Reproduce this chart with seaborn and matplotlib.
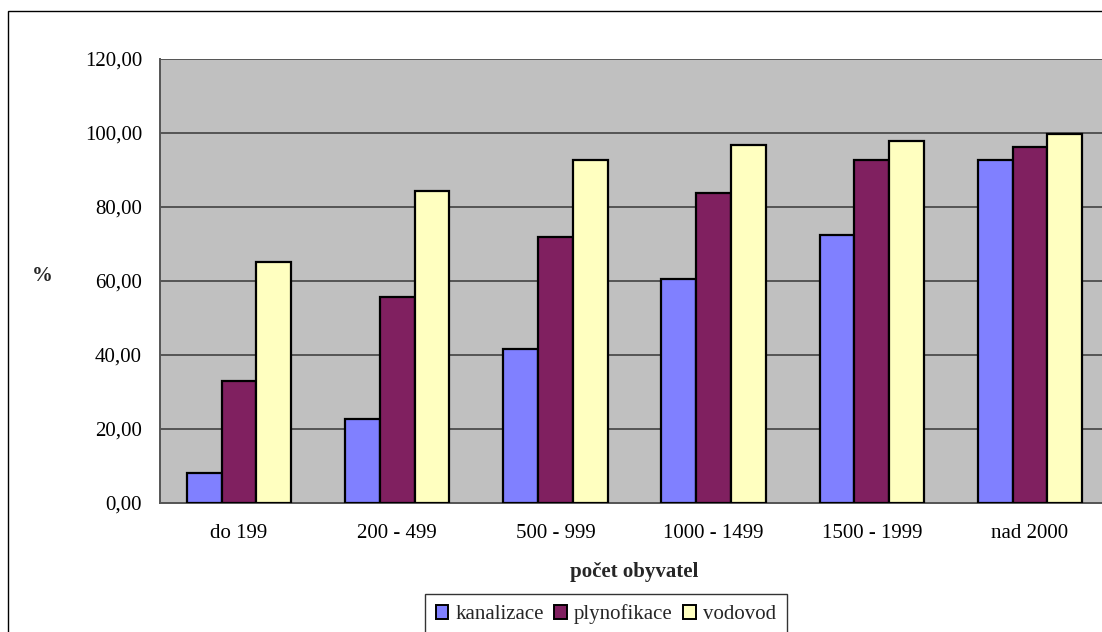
import matplotlib
matplotlib.use("Agg")
import matplotlib.pyplot as plt
from matplotlib.patches import Rectangle, Patch
from matplotlib.ticker import FuncFormatter, FixedLocator
import numpy as np
import pandas as pd
import seaborn as sns

# Size classes of municipalities (number of inhabitants)
categories = ["do 199", "200 - 499", "500 - 999", "1000 - 1499", "1500 - 1999", "nad 2000"]
series_names = ["kanalizace", "plynofikace", "vodovod"]
kanalizace = [8.2, 22.6, 41.5, 60.6, 72.5, 92.7]
plynofikace = [33.1, 55.7, 72.0, 83.9, 92.7, 96.2]
vodovod = [65.1, 84.3, 92.8, 96.7, 97.8, 99.6]
y_ticks = [0, 20, 40, 60, 80, 100, 120]

colors = ["#8080FF", "#802060", "#FFFFC0"]

df = pd.DataFrame({
    "kategorie": categories * 3,
    "serie": [s for s in series_names for _ in categories],
    "hodnota": kanalizace + plynofikace + vodovod,
})

sns.set_theme(style="white")
plt.rcParams["font.family"] = ["Liberation Serif", "DejaVu Serif"]
FS = 15

W, H = 1102, 632
fig = plt.figure(figsize=(W / 100, H / 100), dpi=100)
fig.patch.set_facecolor("white")

# outer chart frame
fig.add_artist(Rectangle((8 / W, -0.2), 1.2, 1 - 11 / H + 0.2, transform=fig.transFigure,
                         fill=False, edgecolor="black", linewidth=1.0))

ax = fig.add_axes([160 / W, 129 / H, 949 / W, 444 / H])
ax.set_facecolor("#C0C0C0")

sns.barplot(data=df, x="kategorie", y="hodnota", hue="serie", order=categories,
            hue_order=series_names, palette=colors, width=0.66, dodge=True,
            edgecolor="black", linewidth=1.6, saturation=1, errorbar=None,
            legend=False, ax=ax, zorder=3)

ax.set_xlim(-0.5, len(categories) - 0.5)
ax.set_ylim(0, 120)
ax.set_yticks(y_ticks)
ax.yaxis.set_major_formatter(FuncFormatter(lambda v, p: f"{v:.2f}".replace(".", ",")))
ax.grid(axis="y", color="#555555", linewidth=1.4, zorder=1)
ax.set_axisbelow(True)

ax.xaxis.set_minor_locator(FixedLocator(np.arange(-0.5, len(categories), 1.0)))
ax.tick_params(axis="x", which="major", length=0, pad=15, labelsize=FS, colors="black")
ax.tick_params(axis="x", which="minor", length=5, width=1.2, color="#333333", direction="out")
ax.tick_params(axis="y", which="major", length=5, width=1.2, color="#333333",
               direction="out", pad=8, labelsize=FS, labelcolor="black")

for side in ["top", "right"]:
    ax.spines[side].set_visible(False)
for side in ["left", "bottom"]:
    ax.spines[side].set_color("#555555")
    ax.spines[side].set_linewidth(1.4)

ax.set_xlabel("počet obyvatel", fontsize=FS, fontweight="bold", labelpad=14)
ax.set_ylabel("%", fontsize=FS, fontweight="bold", rotation=0, va="center", ha="center")
ax.yaxis.set_label_coords(-118 / 949, (503 - 276) / 444)

handles = [Patch(facecolor=c, edgecolor="black", linewidth=1.4) for c in colors]
leg = fig.legend(handles, series_names, loc="upper center",
                 bbox_to_anchor=(606 / W, 1 - 594 / H), ncol=3, frameon=True,
                 fontsize=FS, handlelength=0.6, handleheight=0.6, handletextpad=0.35,
                 columnspacing=0.5, borderpad=0.5, borderaxespad=0, fancybox=False)
leg.get_frame().set_edgecolor("black")
leg.get_frame().set_linewidth(1.0)

fig.savefig("out.png", dpi=100)
